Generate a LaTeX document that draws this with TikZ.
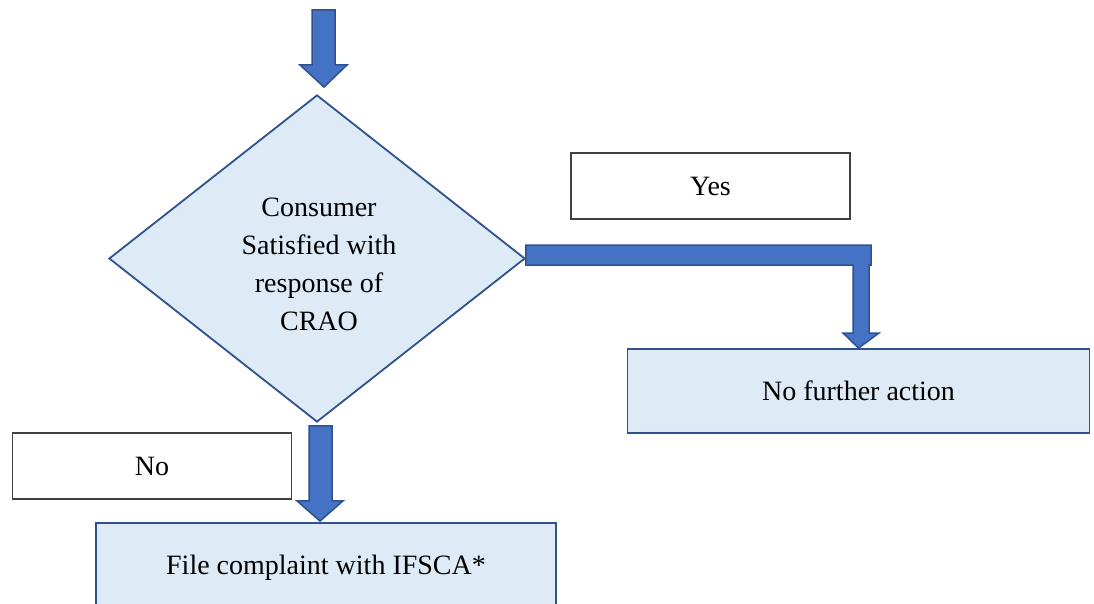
\documentclass[tikz,border=0pt]{standalone}
\usepackage{fontspec}
\setmainfont{Liberation Serif}
\usetikzlibrary{shapes.geometric,calc}
\definecolor{boxfill}{HTML}{DEEAF6}
\definecolor{boxline}{HTML}{2F528F}
\definecolor{arrfill}{HTML}{4472C4}
\tikzset{
  x=1pt,y=-1pt,
  txt/.style={font=\fontsize{28}{38}\selectfont},
  lbl/.style={txt,draw=black!75,line width=1.2pt,fill=white,minimum width=279pt,minimum height=66pt,inner sep=0pt},
  action/.style={txt,draw=boxline,line width=1.8pt,fill=boxfill,inner sep=0pt},
  decision/.style={diamond,draw=boxline,line width=1.8pt,fill=boxfill,minimum width=416pt,minimum height=327pt,inner sep=0pt},
  blockarrow/.style={draw=boxline,line width=1.5pt,fill=arrfill,line join=miter}
}
\begin{document}
\begin{tikzpicture}
\useasboundingbox (0,0) rectangle (1094,604);
\node[decision] (dec) at (317,258.5) {};
\node[txt,align=center,inner sep=0pt] (dectext) at ($(dec.center)+(2,6)$) {Consumer\\Satisfied with\\response of\\CRAO};
\node[lbl] (yes) at (710.5,186) {Yes};
\node[lbl] (no) at (152,466) {No};
\node[action,minimum width=462pt,minimum height=84pt] (nfa) at (858.5,391) {No further action};
\node[action,minimum width=460pt,minimum height=90pt] (fc) at (326,568) {File complaint with IFSCA*};
\coordinate (start) at (323.5,10);
% top arrow
\draw[blockarrow] ($(start)+(-11.5,0)$) -- ++(23,0) -- ++(0,55) -- ++(12,0)
  -- ($(dec.north)+(7,-7)$) -- ($(start)+(-23.5,55)$) -- ++(12,0) -- cycle;
% right elbow arrow
\draw[blockarrow] ($(dec.east)+(0,-13.5)$) -- (871,245) -- (871,265) -- (869,265)
  -- (869,333) -- (879,333) -- (nfa.north) -- (843,333) -- (853,333)
  -- (853,265) -- ($(dec.east)+(0,6.5)$) -- cycle;
% bottom arrow
\draw[blockarrow] ($(dec.south)+(-8,3)$) -- ++(23,0) -- ++(0,75) -- ++(11,0)
  -- ($(fc.north)+(-6,-1)$) -- ($(dec.south)+(-20,78)$) -- ++(12,0) -- cycle;
\end{tikzpicture}
\end{document}
